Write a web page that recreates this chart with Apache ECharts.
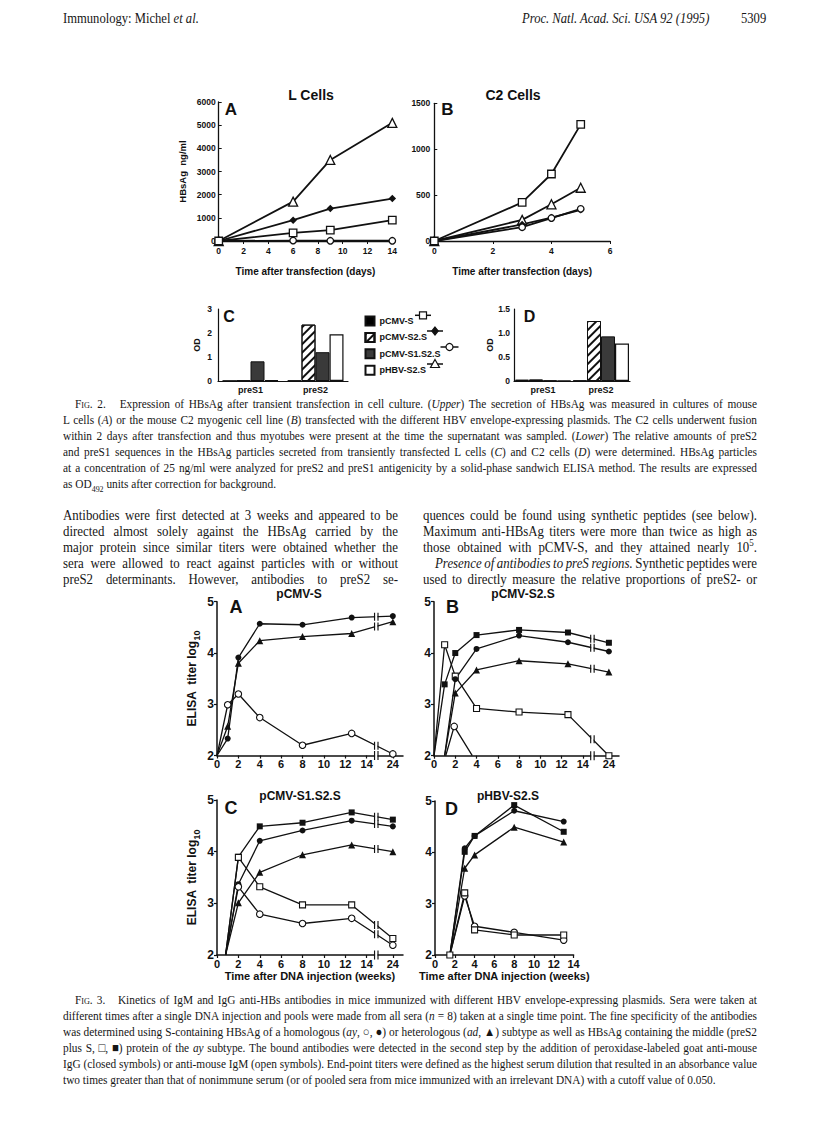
<!DOCTYPE html>
<html>
<head>
<meta charset="utf-8">
<script src="https://cdn.jsdelivr.net/npm/echarts@6.0.0/dist/echarts.min.js"></script>
<style>
  html, body { margin: 0; padding: 0; background: #fff; }
  #page { position: relative; width: 816px; height: 1122px; overflow: hidden; }
  #chart { position: absolute; left: 0; top: 0; width: 816px; height: 1122px; }
  .ln { position: absolute; white-space: nowrap; line-height: 1.2; transform-origin: 0 0;
        font-family: "Liberation Serif", "Times New Roman", serif; color: #161616; }
  .sc { font-variant: small-caps; }
  sub, sup { font-size: 70%; line-height: 0; }
</style>
</head>
<body>
<div id="page">
  <div id="chart"></div>

  <!-- running head -->
  <div class="ln" data-x="63" data-y="21" data-s="14">Immunology: Michel <i>et al.</i></div>
  <div class="ln" data-x="522" data-y="21" data-s="14"><i>Proc. Natl. Acad. Sci. USA 92 (1995)</i></div>
  <div class="ln" data-x="741" data-y="21" data-s="14">5309</div>

  <!-- Fig. 2 legend text -->
  <div class="ln" data-x="75" data-y="406" data-w="682" data-s="12.6"><span class="sc">Fig.</span> 2.&nbsp;&nbsp; Expression of HBsAg after transient transfection in cell culture. (<i>Upper</i>) The secretion of HBsAg was measured in cultures of mouse</div>
  <div class="ln" data-x="63" data-y="422" data-w="694" data-s="12.6">L cells (<i>A</i>) or the mouse C2 myogenic cell line (<i>B</i>) transfected with the different HBV envelope-expressing plasmids. The C2 cells underwent fusion</div>
  <div class="ln" data-x="63" data-y="438" data-w="694" data-s="12.6">within 2 days after transfection and thus myotubes were present at the time the supernatant was sampled. (<i>Lower</i>) The relative amounts of preS2</div>
  <div class="ln" data-x="63" data-y="454" data-w="694" data-s="12.6">and preS1 sequences in the HBsAg particles secreted from transiently transfected L cells (<i>C</i>) and C2 cells (<i>D</i>) were determined. HBsAg particles</div>
  <div class="ln" data-x="63" data-y="470" data-w="694" data-s="12.6">at a concentration of 25 ng/ml were analyzed for preS2 and preS1 antigenicity by a solid-phase sandwich ELISA method. The results are expressed</div>
  <div class="ln" data-x="63" data-y="486" data-s="12.6">as OD<sub>492</sub> units after correction for background.</div>

  <!-- body text, two columns -->
  <div class="ln" data-x="63" data-y="517" data-w="335" data-s="14.3">Antibodies were first detected at 3 weeks and appeared to be</div>
  <div class="ln" data-x="63" data-y="533" data-w="335" data-s="14.3">directed almost solely against the HBsAg carried by the</div>
  <div class="ln" data-x="63" data-y="549" data-w="335" data-s="14.3">major protein since similar titers were obtained whether the</div>
  <div class="ln" data-x="63" data-y="565" data-w="335" data-s="14.3">sera were allowed to react against particles with or without</div>
  <div class="ln" data-x="63" data-y="581" data-w="335" data-s="14.3">preS2 determinants. However, antibodies to preS2 se-</div>
  <div class="ln" data-x="423" data-y="517" data-w="334" data-s="14.3">quences could be found using synthetic peptides (see below).</div>
  <div class="ln" data-x="423" data-y="533" data-w="334" data-s="14.3">Maximum anti-HBsAg titers were more than twice as high as</div>
  <div class="ln" data-x="423" data-y="549" data-w="334" data-s="14.3">those obtained with pCMV-S, and they attained nearly 10<sup>5</sup>.</div>
  <div class="ln" data-x="435" data-y="565" data-w="322" data-s="14.3"><i>Presence of antibodies to preS regions.</i> Synthetic peptides were</div>
  <div class="ln" data-x="423" data-y="581" data-w="334" data-s="14.3">used to directly measure the relative proportions of preS2- or</div>

  <!-- Fig. 3 legend text -->
  <div class="ln" data-x="75" data-y="1002" data-w="682" data-s="12.6"><span class="sc">Fig.</span> 3.&nbsp;&nbsp; Kinetics of IgM and IgG anti-HBs antibodies in mice immunized with different HBV envelope-expressing plasmids. Sera were taken at</div>
  <div class="ln" data-x="63" data-y="1018" data-w="694" data-s="12.6">different times after a single DNA injection and pools were made from all sera (<i>n</i> = 8) taken at a single time point. The fine specificity of the antibodies</div>
  <div class="ln" data-x="63" data-y="1034" data-w="694" data-s="12.6">was determined using S-containing HBsAg of a homologous (<i>ay</i>, ○, ●) or heterologous (<i>ad</i>, ▲) subtype as well as HBsAg containing the middle (preS2</div>
  <div class="ln" data-x="63" data-y="1050" data-w="694" data-s="12.6">plus S, □, ■) protein of the <i>ay</i> subtype. The bound antibodies were detected in the second step by the addition of peroxidase-labeled goat anti-mouse</div>
  <div class="ln" data-x="63" data-y="1066" data-w="694" data-s="12.6">IgG (closed symbols) or anti-mouse IgM (open symbols). End-point titers were defined as the highest serum dilution that resulted in an absorbance value</div>
  <div class="ln" data-x="63" data-y="1082" data-s="12.6">two times greater than that of nonimmune serum (or of pooled sera from mice immunized with an irrelevant DNA) with a cutoff value of 0.050.</div>
</div>

<script>
// ---- Fig. 2 A: L cells, HBsAg ng/ml vs days
const daysL = [0, 6, 9, 14];
const lCmvS = [0, 350, 470, 900];
const lCmvS2S = [0, 900, 1400, 1830];
const lCmvS1S2S = [0, 20, 10, 10];
const lHbvS2S = [0, 1700, 3500, 5100];

// ---- Fig. 2 B: C2 cells
const daysC2 = [0, 3, 4, 5];
const c2CmvS = [0, 420, 730, 1270];
const c2CmvS2S = [0, 180, 255, 340];
const c2CmvS1S2S = [0, 150, 250, 350];
const c2HbvS2S = [0, 230, 400, 580];

// ---- Fig. 2 C/D: OD for preS1 / preS2
const preCats = ['preS1', 'preS2'];
const plasmids = ['pCMV-S', 'pCMV-S2.S', 'pCMV-S1.S2.S', 'pHBV-S2.S'];
const odL = [[0.01, 0.02], [0.01, 2.35], [0.82, 1.2], [0.04, 1.95]];
const odC2 = [[0.03, 0.01], [0.03, 1.25], [0.01, 0.93], [0.01, 0.78]];

// ---- Fig. 3: ELISA titer log10 vs weeks after DNA injection
const weekTicks = [0, 2, 4, 6, 8, 10, 12, 14, 24];
// panel A  pCMV-S
const wA = [0, 1, 2, 4, 8, 12.6, 24];
const aIgGay = [2, 2.33, 3.91, 4.57, 4.55, 4.69, 4.72];
const aIgGad = [2, 2.57, 3.8, 4.24, 4.32, 4.38, 4.61];
const aIgMay = [2, 2.99, 3.2, 2.74, 2.2, 2.43, 2.03];
// panel B  pCMV-S2.S
const wB = [0, 1, 2, 4, 8, 12.6, 24];
const wB1 = [1, 2, 4, 8, 12.6, 24];
const wBm = [1.1, 1.9, 3.6];
const bIgGpre = [2, 3.39, 4.0, 4.35, 4.45, 4.4, 4.2];
const bIgMpre = [2, 4.16, 3.55, 2.92, 2.85, 2.8, 2.0];
const bIgGay = [2, 3.49, 4.08, 4.34, 4.21, 4.03];
const bIgGad = [2, 3.22, 3.67, 3.85, 3.79, 3.63];
const bIgMay = [2, 2.57, 2];
// panel C  pCMV-S1.S2.S
const wC = [0.8, 2, 4, 8, 12.6, 24];
const cIgGpre = [2, 3.9, 4.49, 4.56, 4.76, 4.62];
const cIgGay = [2, 3.37, 4.21, 4.41, 4.6, 4.49];
const cIgGad = [2, 3.01, 3.6, 3.94, 4.13, 4.0];
const cIgMpre = [2, 3.89, 3.32, 2.97, 2.97, 2.32];
const cIgMay = [2, 3.32, 2.79, 2.61, 2.71, 2.19];
// panel D  pHBV-S2.S
const wD = [1.5, 3, 4, 8, 13];
const dIgGpre = [2, 4.01, 4.32, 4.92, 4.4];
const dIgGay = [2, 4.08, 4.32, 4.81, 4.6];
const dIgGad = [2, 3.69, 3.95, 4.49, 4.2];
const dIgMpre = [2, 3.21, 2.49, 2.39, 2.39];
const dIgMay = [2, 3.15, 2.56, 2.44, 2.29];

// ---------------------------------------------------------------
const SANS = '"Liberation Sans", Arial, Helvetica, sans-serif';
const INK = '#111';
const X24 = 16.45;     // where week 24 sits on the broken axis
const BREAK_X = 14.9;  // the // mark
const xPos = w => (w === 24 ? X24 : w);
const plain = v => String(v);

function txt(size, extra) {
  return Object.assign({ color: INK, fontFamily: SANS, fontWeight: 'bold', fontSize: size }, extra || {});
}
function axLine(w) { return { show: true, lineStyle: { color: INK, width: w } }; }

// fig 2 lines
function f2Line(name, grid, xs, ys, symbol, open, size) {
  return {
    name: name, type: 'line', xAxisIndex: grid, yAxisIndex: grid,
    data: xs.map((x, i) => [x, ys[i]]),
    symbol: symbol, symbolSize: size,
    lineStyle: { color: INK, width: 1.8 },
    itemStyle: open ? { color: '#fff', borderColor: INK, borderWidth: 1.3 } : { color: INK },
    emphasis: { disabled: true }
  };
}
function f2Set(grid, xs, s, s2s, s1s2s, hbv, tag) {
  return [
    f2Line(tag + ' pHBV-S2.S', grid, xs, hbv, 'triangle', true, 9),
    f2Line(tag + ' pCMV-S2.S', grid, xs, s2s, 'diamond', false, 7.5),
    f2Line(tag + ' pCMV-S1.S2.S', grid, xs, s1s2s, 'circle', true, 6.5),
    f2Line(tag + ' pCMV-S', grid, xs, s, 'rect', true, 7.5)
  ];
}

// fig 2 bars
const hatch = { symbol: 'rect', symbolSize: 1, color: INK, backgroundColor: null,
  dashArrayX: [1, 0], dashArrayY: [1.3, 3.2], rotation: -Math.PI / 4 };
const barStyles = [
  { color: '#000', borderColor: INK, borderWidth: 1 },
  { color: '#fff', borderColor: INK, borderWidth: 1, decal: hatch },
  { color: '#3a3a3a', borderColor: INK, borderWidth: 1 },
  { color: '#fff', borderColor: INK, borderWidth: 1.2 }
];
function f2Bars(grid, vals) {
  return plasmids.map((p, i) => ({
    name: p, type: 'bar', xAxisIndex: grid, yAxisIndex: grid,
    data: vals[i], barWidth: 14, barGap: '0%',
    itemStyle: barStyles[i], emphasis: { disabled: true }
  }));
}

// fig 3 lines
const KINDS = {
  fcircle: { symbol: 'circle', size: 6, open: false },
  ocircle: { symbol: 'circle', size: 6.5, open: true },
  ftri: { symbol: 'triangle', size: 7, open: false },
  osq: { symbol: 'rect', size: 6, open: true },
  fsq: { symbol: 'rect', size: 6, open: false }
};
function f3Line(grid, weeks, vals, kind, bare, axisBreak) {
  const k = KINDS[kind];
  const data = weeks.map((w, i) => {
    const it = { value: [xPos(w), vals[i]] };
    if (bare.indexOf(i) >= 0) it.symbol = 'none';
    return it;
  });
  const s = {
    type: 'line', xAxisIndex: grid, yAxisIndex: grid, data: data,
    symbol: k.symbol, symbolSize: k.size,
    lineStyle: { color: INK, width: 1.3 },
    itemStyle: k.open ? { color: '#fff', borderColor: INK, borderWidth: 1.1 } : { color: INK },
    emphasis: { disabled: true }
  };
  const marks = [];
  const n = weeks.length;
  if (n > 1 && weeks[n - 1] === 24) {
    const x0 = xPos(weeks[n - 2]), y0 = vals[n - 2], y1 = vals[n - 1];
    const yb = y0 + (y1 - y0) * (BREAK_X - x0) / (X24 - x0);
    marks.push({ coord: [BREAK_X, yb], symbol: 'rect', symbolSize: [2.4, 7], itemStyle: { color: '#fff' } });
    marks.push({ coord: [BREAK_X, yb], symbol: 'path://M0 0H1V10H0ZM3 0H4V10H3Z', symbolSize: [4.6, 8], itemStyle: { color: INK } });
  }
  if (axisBreak) {
    marks.push({ coord: [BREAK_X, 2], symbol: 'rect', symbolSize: [2.4, 8], itemStyle: { color: '#fff' } });
    marks.push({ coord: [BREAK_X, 2], symbol: 'path://M0 0H1V10H0ZM3 0H4V10H3Z', symbolSize: [4.6, 9], itemStyle: { color: INK } });
  }
  if (marks.length) s.markPoint = { data: marks, label: { show: false }, silent: true, animation: false };
  return s;
}

// ---------------------------------------------------------------
const grids = [
  { left: 218.7, top: 102, width: 173.6, height: 139 },   // 2A
  { left: 434.3, top: 103.3, width: 175.7, height: 137.7 },// 2B
  { left: 218, top: 309, width: 130, height: 72 },         // 2C
  { left: 514, top: 309, width: 116, height: 72 },         // 2D
  { left: 217, top: 601.7, width: 186, height: 153.8 },    // 3A
  { left: 434, top: 601.7, width: 185, height: 154 },      // 3B
  { left: 217, top: 800, width: 186, height: 155 },        // 3C
  { left: 435, top: 801, width: 138.6, height: 154 }       // 3D
];

const f2xName = 'Time after transfection (days)';
const f3xName = 'Time after DNA injection (weeks)';
const f3yName = '{a|ELISA  titer log}{b|10}';
const f3yRich = {
  a: txt(12, { lineHeight: 18, verticalAlign: 'middle' }),
  b: txt(9, { lineHeight: 18, verticalAlign: 'bottom' })
};

function f3x(g, max, broken, name) {
  const ticks = broken ? weekTicks.map(xPos) : weekTicks.filter(w => w <= 14);
  const ax = {
    type: 'value', gridIndex: g, min: 0, max: max,
    axisLine: axLine(1.5),
    axisTick: { show: true, length: 3, customValues: ticks, lineStyle: { color: INK, width: 1.2 } },
    axisLabel: txt(11, { margin: 3, customValues: ticks, formatter: v => (Math.abs(v - X24) < 0.01 ? '24' : String(v)) }),
    splitLine: { show: false }
  };
  if (name) {
    ax.name = name; ax.nameLocation = 'middle'; ax.nameGap = 15;
    ax.nameTextStyle = txt(11);
  }
  return ax;
}
function f3y(g, named) {
  const ax = {
    type: 'value', gridIndex: g, min: 2, max: 5, interval: 1,
    axisLine: axLine(1.5),
    axisTick: { show: true, length: 3, lineStyle: { color: INK, width: 1.2 } },
    axisLabel: txt(12, { margin: 3 }),
    splitLine: { show: false }
  };
  if (named) {
    ax.name = f3yName; ax.nameLocation = 'middle'; ax.nameGap = 16; ax.nameRotate = 90;
    ax.nameTextStyle = txt(12, { rich: f3yRich });
  }
  return ax;
}

const xAxes = [
  { type: 'value', gridIndex: 0, min: 0, max: 14, interval: 2, axisLine: axLine(1.3),
    axisTick: { length: 3, lineStyle: { color: INK } }, axisLabel: txt(8.5, { margin: 5, formatter: plain }),
    splitLine: { show: false }, name: f2xName, nameLocation: 'middle', nameGap: 25, nameTextStyle: txt(10) },
  { type: 'value', gridIndex: 1, min: 0, max: 6, interval: 2, axisLine: axLine(1.3),
    axisTick: { length: 3, lineStyle: { color: INK } }, axisLabel: txt(8.5, { margin: 5, formatter: plain }),
    splitLine: { show: false }, name: f2xName, nameLocation: 'middle', nameGap: 25, nameTextStyle: txt(10) },
  { type: 'category', gridIndex: 2, data: preCats, axisLine: axLine(1.2),
    axisTick: { alignWithLabel: true, length: 4, lineStyle: { color: INK } }, axisLabel: txt(9, { margin: 4 }) },
  { type: 'category', gridIndex: 3, data: preCats, axisLine: axLine(1.2),
    axisTick: { alignWithLabel: true, length: 4, lineStyle: { color: INK } }, axisLabel: txt(9, { margin: 4 }) },
  f3x(4, 17.4, true, null),
  f3x(5, 17.4, true, null),
  f3x(6, 17.4, true, f3xName),
  f3x(7, 14, false, f3xName)
];

const yAxes = [
  { type: 'value', gridIndex: 0, min: 0, max: 6000, interval: 1000, axisLine: axLine(1.3),
    axisTick: { inside: true, length: 3, lineStyle: { color: INK } }, axisLabel: txt(8.5, { margin: 3, formatter: plain }),
    splitLine: { show: false }, name: 'HBsAg  ng/ml', nameLocation: 'middle', nameGap: 31, nameRotate: 90, nameTextStyle: txt(9.5) },
  { type: 'value', gridIndex: 1, min: 0, max: 1500, interval: 500, axisLine: axLine(1.3),
    axisTick: { inside: true, length: 3, lineStyle: { color: INK } }, axisLabel: txt(8.5, { margin: 4, formatter: plain }),
    splitLine: { show: false } },
  { type: 'value', gridIndex: 2, min: 0, max: 3, interval: 1, axisLine: axLine(1.2),
    axisTick: { length: 3, lineStyle: { color: INK } }, axisLabel: txt(8.5, { margin: 6 }),
    splitLine: { show: false }, name: 'OD', nameLocation: 'middle', nameGap: 17, nameRotate: 90, nameTextStyle: txt(9) },
  { type: 'value', gridIndex: 3, min: 0, max: 1.5, interval: 0.5, axisLine: axLine(1.2),
    axisTick: { length: 3, lineStyle: { color: INK } },
    axisLabel: txt(8.5, { margin: 4, formatter: v => (v === 0 ? '0' : v.toFixed(1)) }),
    splitLine: { show: false }, name: 'OD', nameLocation: 'middle', nameGap: 18, nameRotate: 90, nameTextStyle: txt(9) },
  f3y(4, true), f3y(5, false), f3y(6, true), f3y(7, false)
];

const series = [].concat(
  f2Bars(2, odL),
  f2Bars(3, odC2),
  f2Set(0, daysL, lCmvS, lCmvS2S, lCmvS1S2S, lHbvS2S, 'L'),
  f2Set(1, daysC2, c2CmvS, c2CmvS2S, c2CmvS1S2S, c2HbvS2S, 'C2'),
  [
    f3Line(4, wA, aIgGay, 'fcircle', [0], true),
    f3Line(4, wA, aIgGad, 'ftri', [0], false),
    f3Line(4, wA, aIgMay, 'ocircle', [0], false),

    f3Line(5, wB, bIgGpre, 'fsq', [0], true),
    f3Line(5, wB, bIgMpre, 'osq', [0], false),
    f3Line(5, wB1, bIgGay, 'fcircle', [0], false),
    f3Line(5, wB1, bIgGad, 'ftri', [0], false),
    f3Line(5, wBm, bIgMay, 'ocircle', [0, 2], false),

    f3Line(6, wC, cIgGpre, 'fsq', [0], true),
    f3Line(6, wC, cIgGay, 'fcircle', [0], false),
    f3Line(6, wC, cIgGad, 'ftri', [0], false),
    f3Line(6, wC, cIgMpre, 'osq', [0], false),
    f3Line(6, wC, cIgMay, 'ocircle', [0], false),

    f3Line(7, wD, dIgGpre, 'fsq', [0], false),
    f3Line(7, wD, dIgGay, 'fcircle', [0], false),
    f3Line(7, wD, dIgGad, 'ftri', [0], false),
    f3Line(7, wD, dIgMay, 'ocircle', [0], false),
    f3Line(7, wD, dIgMpre, 'osq', [], false)
  ]
);

// labels and the line part of the key
function label(text, x, y, size) {
  return { type: 'text', x: x, y: y, silent: true,
    style: { text: text, font: 'bold ' + size + 'px ' + SANS, fill: INK, align: 'center', verticalAlign: 'middle' } };
}
const keyRows = [315.3, 331, 347, 364];
const keyX = [415, 427, 440.5, 427];
const keyW = [16, 16, 18, 16];
const keySym = ['rect', 'diamond', 'circle', 'triangle'];
const keyOpen = [true, false, true, true];
function keyMark(i) {
  const y = keyRows[i], x0 = keyX[i], x1 = keyX[i] + keyW[i], cx = (x0 + x1) / 2;
  const fill = keyOpen[i] ? '#fff' : INK;
  const st = { fill: fill, stroke: INK, lineWidth: 1.2 };
  let shape;
  if (keySym[i] === 'rect') shape = { type: 'rect', shape: { x: cx - 3.5, y: y - 3.5, width: 7, height: 7 }, style: st };
  else if (keySym[i] === 'circle') shape = { type: 'circle', shape: { cx: cx, cy: y, r: 3.5 }, style: st };
  else if (keySym[i] === 'diamond') shape = { type: 'polygon', shape: { points: [[cx, y - 4], [cx + 3.2, y], [cx, y + 4], [cx - 3.2, y]] }, style: st };
  else shape = { type: 'polygon', shape: { points: [[cx, y - 4.5], [cx + 4.5, y + 3.5], [cx - 4.5, y + 3.5]] }, style: st };
  return [
    { type: 'line', silent: true, shape: { x1: x0, y1: y, x2: x1, y2: y }, style: { stroke: INK, lineWidth: 1.5 } },
    Object.assign({ silent: true, z: 2 }, shape)
  ];
}

const graphic = [
  label('L Cells', 311, 95, 14),
  label('C2 Cells', 513, 95, 14),
  label('A', 231, 109, 17),
  label('B', 447.5, 109.5, 17),
  label('C', 229, 316, 16),
  label('D', 529.5, 316.5, 16),
  label('pCMV-S', 299, 594, 12),
  label('pCMV-S2.S', 523, 594, 12),
  label('pCMV-S1.S2.S', 300, 796, 12),
  label('pHBV-S2.S', 508, 796, 12),
  label('A', 236, 607, 18),
  label('B', 452.5, 607, 18),
  label('C', 231, 807.5, 18),
  label('D', 451.5, 808.5, 18)
].concat(keyMark(0), keyMark(1), keyMark(2), keyMark(3));

const chart = echarts.init(document.getElementById('chart'), null, { renderer: 'svg' });
chart.setOption({
  animation: false,
  backgroundColor: '#fff',
  grid: grids,
  xAxis: xAxes,
  yAxis: yAxes,
  legend: {
    data: plasmids, orient: 'vertical', left: 359.5, top: 310.5,
    itemWidth: 9, itemHeight: 9, itemGap: 5.4, icon: 'rect', selectedMode: false,
    textStyle: txt(9, { lineHeight: 11 })
  },
  graphic: graphic,
  series: series
});

// page text: place each line, justify by word spacing, narrow it like the scan
const K = 0.9;
document.querySelectorAll('.ln').forEach(el => {
  const s = +el.dataset.s, w = +el.dataset.w || 0;
  el.style.fontSize = s + 'px';
  el.style.left = el.dataset.x + 'px';
  el.style.top = (+el.dataset.y - s * 0.68) + 'px';
  if (w) {
    const nat = el.getBoundingClientRect().width;
    const gaps = (el.textContent.match(/[ \u00a0]/g) || []).length;
    if (gaps) el.style.wordSpacing = ((w / K - nat) / gaps) + 'px';
  }
  el.style.transform = 'scaleX(' + K + ')';
});
</script>
</body>
</html>
